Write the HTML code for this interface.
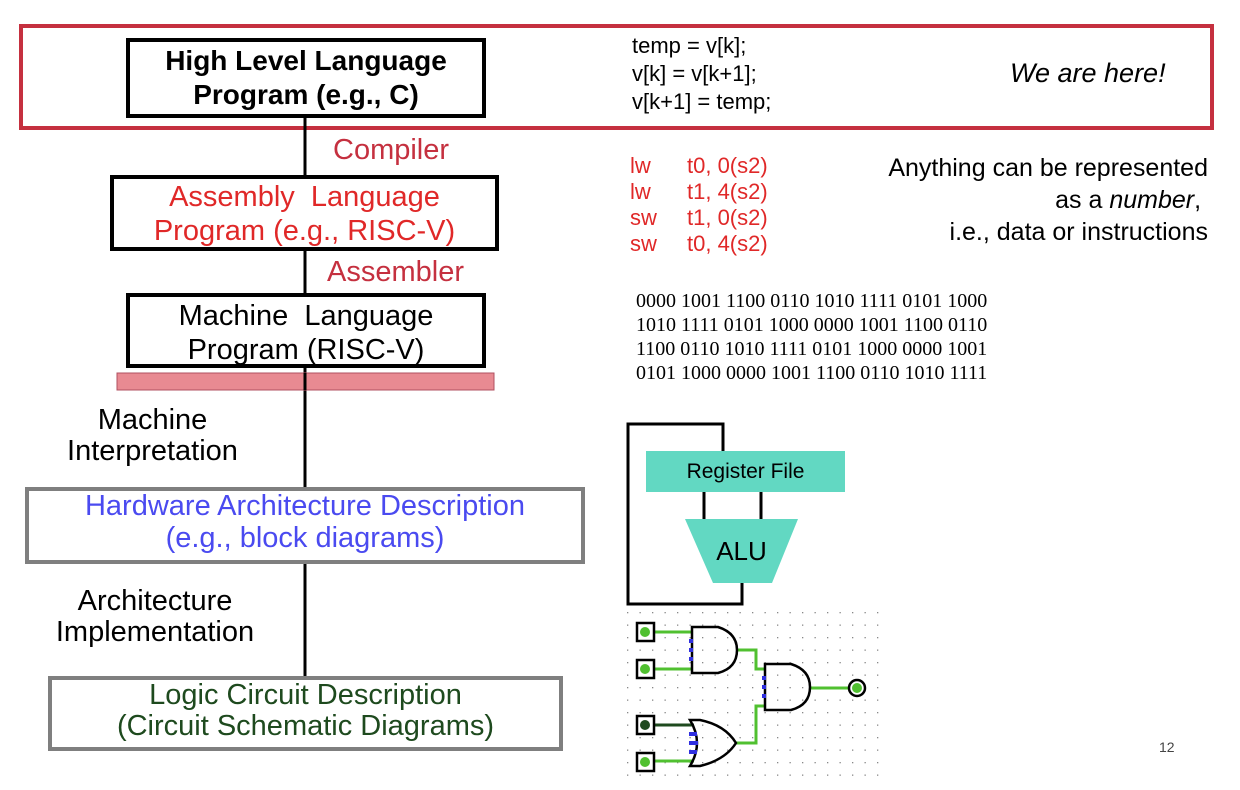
<!DOCTYPE html>
<html><head><meta charset="utf-8"><style>
body{margin:0;width:1240px;height:790px;background:#fff;position:relative;overflow:hidden;font-family:"Liberation Sans",sans-serif}
.a{position:absolute;white-space:nowrap}
.box{position:absolute;box-sizing:border-box;background:#fff}
.c{text-align:center}
</style></head><body>
<svg width="1240" height="790" style="position:absolute;left:0;top:0">
<defs><pattern id="g" x="627" y="612" width="12.5" height="12.5" patternUnits="userSpaceOnUse"><rect x="0" y="0" width="1.3" height="1.3" fill="#888"/></pattern></defs>
<rect x="21" y="26" width="1191" height="102" fill="none" stroke="#c5303f" stroke-width="4"/>
<line x1="305" y1="117" x2="305" y2="676" stroke="#000" stroke-width="3"/>
<rect x="117" y="373" width="377" height="17" fill="#e88a92" stroke="#b05060" stroke-width="1"/>
<line x1="305" y1="373" x2="305" y2="390" stroke="#000" stroke-width="3"/>
<polyline points="723,452 723,424 628,424 628,604 742,604 742,583" fill="none" stroke="#000" stroke-width="3"/>
<rect x="646" y="451" width="199" height="41" fill="#62d8c2"/>
<line x1="704" y1="492" x2="704" y2="520" stroke="#000" stroke-width="3"/>
<line x1="761" y1="492" x2="761" y2="520" stroke="#000" stroke-width="3"/>
<polygon points="685,519 798,519 772,583 713,583" fill="#62d8c2"/>
<rect x="627" y="612" width="252" height="170" fill="url(#g)"/>
<g stroke="#50c030" stroke-width="3" fill="none">
<line x1="654" y1="632" x2="692" y2="632"/><line x1="654" y1="669" x2="692" y2="669"/>
<line x1="654" y1="761" x2="694" y2="761"/>
<polyline points="737,650 756,650 756,669 765,669"/>
<polyline points="736,743 756,743 756,706 765,706"/>
<line x1="810" y1="688" x2="850" y2="688"/>
</g>
<line x1="654" y1="725" x2="694" y2="725" stroke="#1e4a1e" stroke-width="3"/>
<g stroke="#000" stroke-width="2.5" fill="#fff">
<rect x="637" y="623" width="17" height="18"/><rect x="637" y="660" width="17" height="18"/>
<rect x="637" y="716" width="17" height="18"/><rect x="637" y="753" width="17" height="18"/>
<path d="M692,627 L718,627 Q737,633 737,650 Q737,668 718,673 L692,673 Z" fill="none"/>
<path d="M765,664 L791,664 Q810,670 810,687 Q810,705 791,710 L765,710 Z" fill="none"/>
<path d="M690,720 L700,720 Q725,725 736,743 Q725,760 700,766 L690,766 Q704,743 690,720 Z" fill="none"/>
<circle cx="857" cy="688" r="8"/>
</g>
<g fill="#50c030"><circle cx="645" cy="632" r="5"/><circle cx="645" cy="669" r="5"/><circle cx="645" cy="762" r="5"/><circle cx="857" cy="688" r="5"/></g>
<circle cx="645" cy="725" r="5" fill="#1e4a1e"/>
<g fill="#3030e0"><rect x="689" y="639" width="4" height="4"/><rect x="689" y="648" width="4" height="4"/><rect x="689" y="657" width="4" height="4"/>
<rect x="762" y="676" width="4" height="4"/><rect x="762" y="685" width="4" height="4"/><rect x="762" y="694" width="4" height="4"/>
<rect x="689" y="732" width="8" height="4"/><rect x="689" y="741" width="9" height="4"/><rect x="689" y="750" width="8" height="4"/></g>
</svg>
<div class="box" style="left:126px;top:38px;width:360px;height:80px;border:4px solid #000"></div>
<div class="a c" style="left:126px;top:44px;width:360px;font-weight:bold;font-size:28px;line-height:34px">High Level Language<br>Program (e.g., C)</div>
<div class="a" style="left:333px;top:134px;font-size:29px;color:#c5303f">Compiler</div>
<div class="box" style="left:110px;top:175px;width:389px;height:76px;border:4px solid #000"></div>
<div class="a c" style="left:110px;top:180px;width:389px;font-size:29px;line-height:34px;color:#e02828">Assembly&nbsp; Language<br>Program (e.g., RISC-V)</div>
<div class="a" style="left:327px;top:256px;font-size:29px;color:#c5303f">Assembler</div>
<div class="box" style="left:126px;top:293px;width:360px;height:75px;border:4px solid #000"></div>
<div class="a c" style="left:126px;top:299px;width:360px;font-size:29px;line-height:34px">Machine&nbsp; Language<br>Program (RISC-V)</div>
<div class="a c" style="left:40px;top:405px;width:225px;font-size:29px;line-height:31px">Machine<br>Interpretation</div>
<div class="box" style="left:25px;top:487px;width:560px;height:77px;border:4px solid #7f7f7f"></div>
<div class="a c" style="left:25px;top:490px;width:560px;font-size:29px;line-height:32px;color:#4a4af0">Hardware Architecture Description<br>(e.g., block diagrams)</div>
<div class="a c" style="left:30px;top:586px;width:250px;font-size:29px;line-height:31px">Architecture<br>Implementation</div>
<div class="box" style="left:48px;top:676px;width:515px;height:75px;border:4px solid #7f7f7f"></div>
<div class="a c" style="left:48px;top:680px;width:515px;font-size:29px;line-height:31px;color:#1e4a1e">Logic Circuit Description<br>(Circuit Schematic Diagrams)</div>
<div class="a" style="left:632px;top:32px;font-size:22px;line-height:28px">temp = v[k];<br>v[k] = v[k+1];<br>v[k+1] = temp;</div>
<div class="a" style="left:1010px;top:58px;font-size:27px;font-style:italic">We are here!</div>
<div class="a" style="left:630px;top:153px;font-size:22px;line-height:26px;color:#e02828">lw<br>lw<br>sw<br>sw</div>
<div class="a" style="left:687px;top:153px;font-size:22px;line-height:26px;color:#e02828">t0, 0(s2)<br>t1, 4(s2)<br>t1, 0(s2)<br>t0, 4(s2)</div>
<div class="a" style="right:32px;top:152px;font-size:25px;line-height:32px;text-align:right">Anything can be represented<br>as a <i>number</i>,&nbsp;<br>i.e., data or instructions</div>
<div class="a" style="left:636px;top:289px;font-family:'Liberation Serif',serif;font-size:20px;line-height:24px">0000 1001 1100 0110 1010 1111 0101 1000<br>1010 1111 0101 1000 0000 1001 1100 0110<br>1100 0110 1010 1111 0101 1000 0000 1001<br>0101 1000 0000 1001 1100 0110 1010 1111</div>
<div class="a c" style="left:646px;top:460px;width:199px;font-size:21px">Register File</div>
<div class="a c" style="left:685px;top:536px;width:113px;font-size:26px">ALU</div>
<div class="a" style="left:1159px;top:739px;font-size:14px;color:#444">12</div>
</body></html>
